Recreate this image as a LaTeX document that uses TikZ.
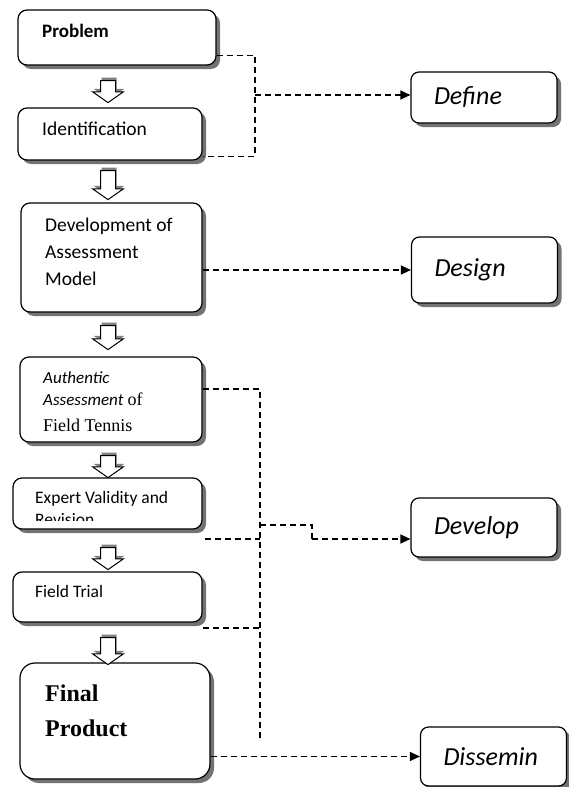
\documentclass[tikz,border=0pt]{standalone}
\usepackage{fontspec}
\setmainfont{Liberation Serif}
\setsansfont{Carlito}
\usetikzlibrary{arrows.meta,shadows,shapes.arrows}

\tikzset{
  stepbox/.style={draw, fill=white, line width=1.2pt, rounded corners=9pt,
    drop shadow={shadow xshift=4pt, shadow yshift=-4pt, fill=black!55, opacity=1}},
  phasebox/.style={stepbox, rounded corners=8pt, align=left, text width=100pt, inner xsep=23pt,
    font=\sffamily\itshape\fontsize{26}{30}\selectfont},
  steptext/.style={anchor=base west, inner sep=0pt, align=left},
  downarrow/.style={single arrow, draw, fill=white, line width=1pt, rotate=-90,
    inner xsep=0pt, inner ysep=7pt, single arrow head extend=8pt, single arrow tip angle=110,
    drop shadow={shadow xshift=1pt, shadow yshift=3pt, fill=black!50, opacity=1}},
  dline/.style={line width=1.3pt, dash pattern=on 6pt off 4pt},
  tip/.style={-{Triangle[length=10pt,width=9pt]}}
}

\begin{document}
\begin{tikzpicture}[x=1pt,y=-1pt]
\useasboundingbox (0,0) rectangle (569,787);

% left column
\node[stepbox, minimum width=198pt, minimum height=55pt] (problem) at (117,37.5) {};
\node[stepbox, minimum width=184pt, minimum height=52pt] (ident) at (110,134) {};
\node[stepbox, minimum width=181pt, minimum height=109pt] (dev) at (111.5,257.5) {};
\node[stepbox, minimum width=182pt, minimum height=85pt] (auth) at (111,399.5) {};
\node[stepbox, minimum width=189pt, minimum height=51pt] (expert) at (107.5,503.5) {};
\node[stepbox, minimum width=189pt, minimum height=50pt] (field) at (107.5,597) {};
\node[stepbox, rounded corners=15pt, minimum width=190pt, minimum height=116pt] (final) at (115,721) {};

% texts (base anchor = last line)
\node[steptext, font=\sffamily\bfseries\fontsize{19}{22}\selectfont] (problem-txt) at (42,37) {Problem};
\node[steptext, font=\sffamily\fontsize{19.5}{22}\selectfont] (ident-txt) at (42,135) {Identification};
\node[steptext, font=\sffamily\fontsize{19.5}{27}\selectfont] (dev-txt) at (45,285) {Development of\\Assessment\\Model};
\node[steptext, font=\fontsize{17}{22}\selectfont] (auth-txt) at (43,431)
  {{\sffamily\itshape Authentic}\\{\sffamily\itshape Assessment}\ {\fontsize{18}{22}\selectfont of}\\[4pt]{\fontsize{18}{22}\selectfont Field Tennis}};
\begin{scope}
  \clip (expert.north west) rectangle ([yshift=9pt]expert.south east);
  \node[steptext, font=\sffamily\fontsize{17.5}{22}\selectfont] (expert-txt) at (35,525) {Expert Validity and\\Revision};
\end{scope}
\node[steptext, font=\sffamily\fontsize{17.5}{22}\selectfont] (field-txt) at (35,597) {Field Trial};
\node[steptext, font=\bfseries\fontsize{24}{35}\selectfont] (final-txt) at (45,736) {Final\\Product};

% hollow arrows between the steps
\foreach \ya/\len [count=\i] in {89/22, 182.5/29, 335/24, 464/22, 556/22, 648.5/27}
  \node[downarrow, minimum height=\len pt] (a\i) at (108,\ya) {};

% right column
\node[phasebox, minimum height=51pt] (define) at (484,97.5) {Define};
\node[phasebox, minimum height=66pt] (design) at (484.5,270) {Design};
\node[phasebox, minimum height=59pt] (develop) at (484,527.5) {Develop};
\node[phasebox, minimum height=59pt] (dissemin) at (493.5,756.5) {Dissemin};

% dashed links
\coordinate (j1) at (255,95);
\coordinate (t-top) at (260,389);
\coordinate (t-bot) at (260,738);
\coordinate (t-dev) at (260,525);
\coordinate (kink) at (312,525);
\coordinate (e-out) at (205,539);
\coordinate (f-out) at (203,628);
\coordinate (dev-in) at ([yshift=-11.5pt]develop.west);

\draw[dline] ([yshift=10pt]problem.south east) -| (j1) |- ([yshift=4pt]ident.south east);
\draw[dline, tip] (j1) -- (define.west |- j1);
\draw[dline, tip] (design.west -| dev.east) -- (design.west);
\draw[dline] (auth.east |- t-top) -- (t-top) -- (t-bot);
\draw[dline] (e-out) -- (e-out -| t-top);
\draw[dline] (f-out) -- (f-out -| t-top);
\draw[dline] (t-dev) -- (kink) -- (kink |- dev-in);
\draw[dline, tip] (kink |- dev-in) -- (dev-in);
\draw[dline, tip] (dissemin.west -| final.east) -- (dissemin.west);
\end{tikzpicture}
\end{document}
